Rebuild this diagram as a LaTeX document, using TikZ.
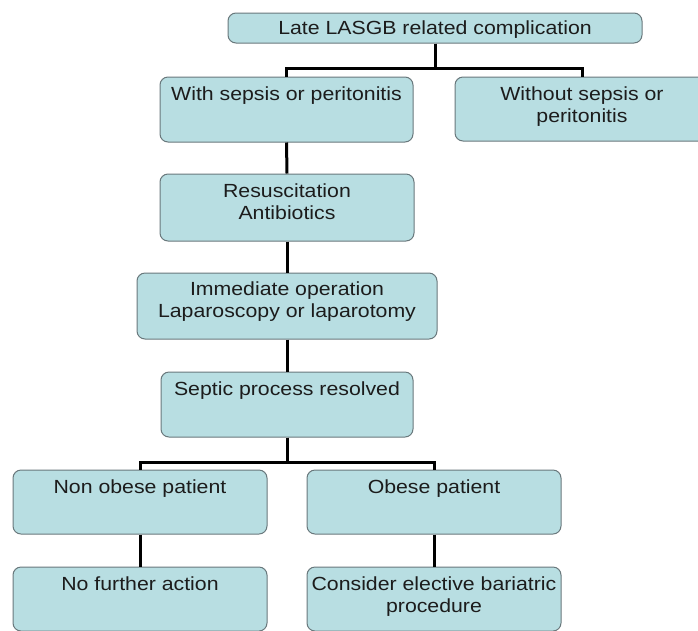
\documentclass[tikz,border=0pt]{standalone}
\usepackage{fontspec}
\setmainfont{Liberation Sans}[FakeStretch=1.12]
\definecolor{boxfill}{RGB}{184,222,226}
\definecolor{boxline}{RGB}{105,120,124}
\definecolor{txt}{RGB}{28,28,28}
\newcommand\bt[4]{\parbox[c][#2pt][t]{#1pt}{\centering\fontsize{19}{22.5}\selectfont\color{txt}\rule{0pt}{#3pt}#4}}
\tikzset{
  box/.style={draw=boxline, fill=boxfill, line width=1pt, rounded corners=8pt, inner sep=0pt},
  conn/.style={draw=black, line width=3pt}
}
\begin{document}
\begin{tikzpicture}[x=1pt,y=-1pt]
\useasboundingbox (0,0) rectangle (698,630);
\clip (0,0) rectangle (698,630);
\node[box] (top) at (435,28) {\bt{414}{30}{21}{Late LASGB related complication}};
\node[box] (withs) at (286.5,109.5) {\bt{253}{65}{23}{With sepsis or peritonitis}};
\node[box] (without) at (582,109) {\bt{254}{64}{23}{Without sepsis or\\peritonitis}};
\node[box] (resus) at (287,207.5) {\bt{254}{67}{23}{Resuscitation\\Antibiotics}};
\node[box] (immed) at (287,306) {\bt{300}{66}{22}{Immediate operation\\Laparoscopy or laparotomy}};
\node[box] (septic) at (287,404.5) {\bt{252}{65}{23}{Septic process resolved}};
\node[box] (nonob) at (140,502) {\bt{254}{64}{23}{Non obese patient}};
\node[box] (obese) at (434,502) {\bt{254}{64}{23}{Obese patient}};
\node[box] (nofur) at (140,599) {\bt{254}{64}{23}{No further action}};
\node[box] (consider) at (434,599) {\bt{254}{64}{23}{Consider elective bariatric\\procedure}};
\draw[conn] (top.south) -- ++(0,25) -| (withs.north);
\draw[conn] (top.south) -- ++(0,25) -| (without.north);
\draw[conn] (withs.south) -- (resus.north);
\draw[conn] (resus.south) -- (immed.north);
\draw[conn] (immed.south) -- (septic.north);
\draw[conn] (septic.south) -- ++(0,25) -| (nonob.north);
\draw[conn] (septic.south) -- ++(0,25) -| (obese.north);
\draw[conn] (nonob.south) -- (nofur.north);
\draw[conn] (obese.south) -- (consider.north);
\end{tikzpicture}
\end{document}
